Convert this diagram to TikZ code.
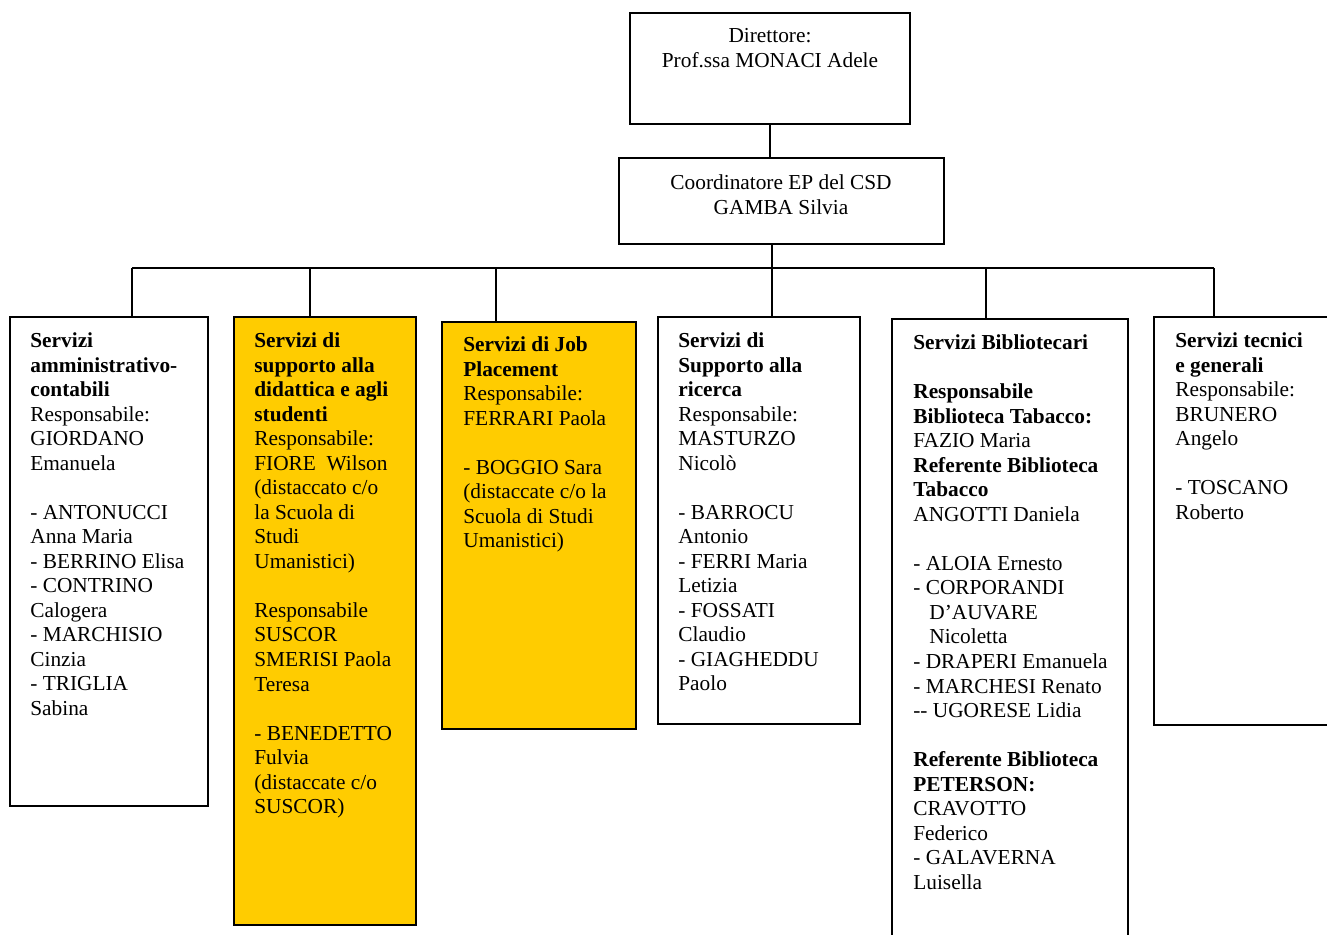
\documentclass[tikz,border=0pt]{standalone}
\usepackage{fontspec}
\setmainfont{Liberation Serif}
\usetikzlibrary{fit}
\definecolor{giallo}{HTML}{FFCC00}

\newcommand{\vuota}{\\[13.8pt]}

\begin{document}
\begin{tikzpicture}[x=0.5625pt, y=-0.5625pt,
    box/.style={draw, line width=1pt, inner sep=0pt},
    ufficio/.style={box, fill=giallo},
    testo/.style={anchor=north west, inner sep=0pt, align=left,
      font=\fontsize{12}{13.8}\selectfont},
    titolo/.style={anchor=north, inner sep=0pt, align=center,
      font=\fontsize{12}{13.8}\selectfont},
    link/.style={line width=0.8pt}]
  \useasboundingbox (0,0) rectangle (1327,935);
  \clip (0,0) rectangle (1327,935);

  % vertice
  \node[box, fit={(630,13) (910,124)}] (dir) {};
  \node[titolo] (tdir) at (770,25) {\strut Direttore:\\ Prof.ssa MONACI Adele};
  \node[box, fit={(619,158) (944,244)}] (coord) {};
  \node[titolo] (tcoord) at (781,172) {\strut Coordinatore EP del CSD\\ GAMBA Silvia};

  % servizi
  \node[box, fit={(10,317) (208,806)}] (b1) {};
  \node[ufficio, fit={(234,317) (416,925)}] (b2) {};
  \node[ufficio, fit={(442,322) (636,729)}] (b3) {};
  \node[box, fit={(658,317) (860,724)}] (b4) {};
  \node[box, fit={(892,319) (1128,960)}] (b5) {};
  \node[box, fit={(1154,317) (1345,725)}] (b6) {};

  \node[testo] (t1) at (30,330) {\strut\textbf{Servizi}\\ \textbf{amministrativo-}\\
    \textbf{contabili}\\ Responsabile:\\ GIORDANO\\ Emanuela\vuota
    - ANTONUCCI\\ Anna Maria\\ - BERRINO Elisa\\ - CONTRINO\\ Calogera\\
    - MARCHISIO\\ Cinzia\\ - TRIGLIA\\ Sabina};
  \node[testo] (t2) at (254,330) {\strut\textbf{Servizi di}\\ \textbf{supporto alla}\\
    \textbf{didattica e agli}\\ \textbf{studenti}\\ Responsabile:\\
    FIORE\ \ Wilson\\ (distaccato c/o\\ la Scuola di\\ Studi\\ Umanistici)\vuota
    Responsabile\\ SUSCOR\\ SMERISI Paola\\ Teresa\vuota
    - BENEDETTO\\ Fulvia\\ (distaccate c/o\\ SUSCOR)};
  \node[testo] (t3) at (463,334) {\strut\textbf{Servizi di Job}\\ \textbf{Placement}\\
    Responsabile:\\ FERRARI Paola\vuota
    - BOGGIO Sara\\ (distaccate c/o la\\ Scuola di Studi\\ Umanistici)};
  \node[testo] (t4) at (678,330) {\strut\textbf{Servizi di}\\ \textbf{Supporto alla}\\
    \textbf{ricerca}\\ Responsabile:\\ MASTURZO\\ Nicolò\vuota
    - BARROCU\\ Antonio\\ - FERRI Maria\\ Letizia\\ - FOSSATI\\ Claudio\\
    - GIAGHEDDU\\ Paolo};
  \node[testo] (t5) at (913,332) {\strut\textbf{Servizi Bibliotecari}\vuota
    \textbf{Responsabile}\\ \textbf{Biblioteca Tabacco:}\\ FAZIO Maria\\
    \textbf{Referente Biblioteca}\\ \textbf{Tabacco}\\ ANGOTTI Daniela\vuota
    - ALOIA Ernesto\\ - CORPORANDI\\ \hspace*{9pt}D’AUVARE\\ \hspace*{9pt}Nicoletta\\
    - DRAPERI Emanuela\\ - MARCHESI Renato\\ -{}- UGORESE Lidia\vuota
    \textbf{Referente Biblioteca}\\ \textbf{PETERSON:}\\ CRAVOTTO\\ Federico\\
    - GALAVERNA\\ Luisella};
  \node[testo] (t6) at (1175,330) {\strut\textbf{Servizi tecnici}\\ \textbf{e generali}\\
    Responsabile:\\ BRUNERO\\ Angelo\vuota
    - TOSCANO\\ Roberto};

  % collegamenti
  \coordinate (bus) at (772,268);
  \coordinate (p1) at (132,317);
  \coordinate (p2) at (310,317);
  \coordinate (p3) at (496,322);
  \coordinate (p4) at (772,317);
  \coordinate (p5) at (986,319);
  \coordinate (p6) at (1214,317);
  \draw[link] (dir.south) -- (dir.south |- coord.north);
  \draw[link] (p4 |- coord.south) -- (bus);
  \draw[link] (p1 |- bus) -- (p6 |- bus);
  \foreach \p in {p1,p2,p3,p4,p5,p6}
    \draw[link] (\p |- bus) -- (\p);
\end{tikzpicture}
\end{document}
